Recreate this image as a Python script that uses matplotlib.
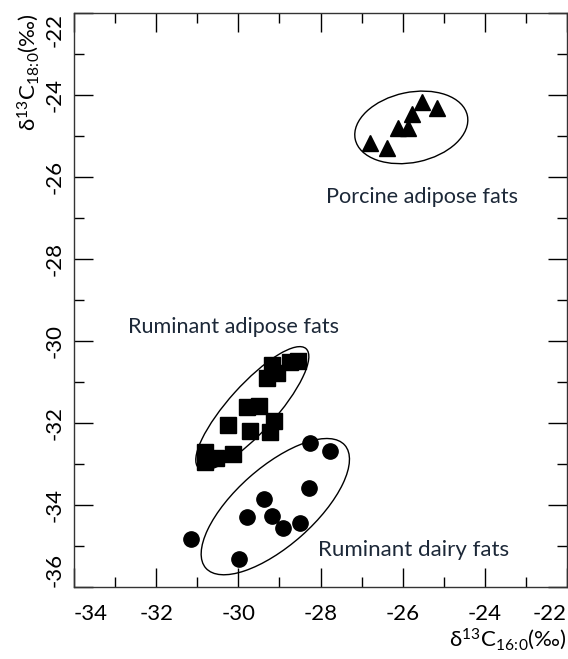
import matplotlib
matplotlib.use('Agg')
import matplotlib.pyplot as plt
from matplotlib.patches import Ellipse

plt.rcParams['font.family'] = ['Lato', 'DejaVu Sans']
plt.rcParams['mathtext.default'] = 'regular'

# valeurs
porcine_x = [-26.80, -26.37, -26.11, -25.87, -25.77, -25.52, -25.17]
porcine_y = [-25.18, -25.29, -24.80, -24.81, -24.47, -24.18, -24.31]

rum_adipose_x = [-30.81, -30.81, -30.55, -30.13, -30.25, -29.72, -29.79, -29.50,
                 -29.23, -29.13, -29.30, -29.06, -29.18, -28.74, -28.55]
rum_adipose_y = [-32.71, -32.95, -32.85, -32.76, -32.05, -32.20, -31.61, -31.59,
                 -32.22, -31.95, -30.90, -30.78, -30.59, -30.51, -30.49]

rum_dairy_x = [-28.26, -27.77, -28.28, -29.37, -29.78, -29.19, -28.91, -28.50, -31.14, -29.99]
rum_dairy_y = [-32.48, -32.68, -33.58, -33.86, -34.29, -34.27, -34.57, -34.45, -34.84, -35.32]

x_ticks = [-34, -32, -30, -28, -26, -24, -22]
x_labels = ['-34', '-32', '-30', '-28', '-26', '-24', '-22']
y_ticks = [-36, -34, -32, -30, -28, -26, -24, -22]
y_labels = ['-36', '-34', '-32', '-30', '-28', '-26', '-24', '-22']

fig = plt.figure(figsize=(5.68, 6.59), dpi=100)
ax = fig.add_axes([74 / 568, 72 / 659, 493 / 568, 574 / 659])

ax.plot(porcine_x, porcine_y, '^', color='black', ms=12, mec='black')
ax.plot(rum_adipose_x, rum_adipose_y, 's', color='black', ms=11, mec='black')
ax.plot(rum_dairy_x, rum_dairy_y, 'o', color='black', ms=11, mec='black')

# ellipses autour des groupes
ax.add_patch(Ellipse((-25.79, -24.79), 2.79, 1.71, angle=12, fill=False, lw=1, ec='black'))
ax.add_patch(Ellipse((-29.66, -31.64), 3.91, 1.15, angle=48, fill=False, lw=1, ec='black'))
ax.add_patch(Ellipse((-29.10, -34.04), 4.52, 1.91, angle=41.6, fill=False, lw=1, ec='black'))

txt_color = '#1c2838'
ax.text(-27.87, -26.49, 'Porcine adipose fats', fontsize=15.6, color=txt_color, va='center')
ax.text(-32.69, -29.66, 'Ruminant adipose fats', fontsize=15.6, color=txt_color, va='center')
ax.text(-28.06, -35.10, 'Ruminant dairy fats', fontsize=16, color=txt_color, va='center')

ax.set_xlim(-34, -22)
ax.set_ylim(-36, -22)
ax.set_xticks(x_ticks)
ax.set_xticklabels(x_labels, fontsize=16)
ax.set_yticks(y_ticks)
ax.set_yticklabels(y_labels, fontsize=16, rotation=90, va='center')
ax.set_xticks(range(-33, -22, 2), minor=True)
ax.set_yticks(range(-35, -22, 2), minor=True)
ax.tick_params(which='both', direction='in', top=True, right=True, width=1)
ax.tick_params(which='major', length=14)
ax.tick_params(which='minor', length=7)
ax.tick_params(axis='x', pad=12)
ax.tick_params(axis='y', pad=7)

xl = ax.get_xticklabels()
xl[0].set_ha('left')
xl[-1].set_ha('right')
yl = ax.get_yticklabels()
yl[0].set_va('bottom')
yl[-1].set_va('top')

for s in ax.spines.values():
    s.set_linewidth(1)
    s.set_color('#333333')

ax.set_xlabel(r'δ$^{13}$C$_{16\!:\!0}$(‰)', fontsize=16, loc='right', labelpad=2)
ax.set_ylabel(r'δ$^{13}$C$_{18\!:\!0}$(‰)', fontsize=16, loc='top', labelpad=2)

fig.savefig('out.png', dpi=100)
